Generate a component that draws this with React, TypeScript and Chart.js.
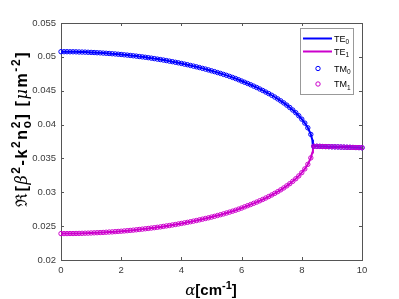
import React, { useEffect, useRef } from "react";
import { Chart, registerables } from "chart.js";

Chart.register(...registerables);

// alpha values (cm^-1) before the exceptional point
const alphaPre = [
  0, 0.1, 0.2, 0.3, 0.4, 0.5, 0.6, 0.7, 0.8, 0.9,
  1, 1.1, 1.2, 1.3, 1.4, 1.5, 1.6, 1.7, 1.8, 1.9,
  2, 2.1, 2.2, 2.3, 2.4, 2.5, 2.6, 2.7, 2.8, 2.9,
  3, 3.1, 3.2, 3.3, 3.4, 3.5, 3.6, 3.7, 3.8, 3.9,
  4, 4.1, 4.2, 4.3, 4.4, 4.5, 4.6, 4.7, 4.8, 4.9,
  5, 5.1, 5.2, 5.3, 5.4, 5.5, 5.6, 5.7, 5.8, 5.9,
  6, 6.1, 6.2, 6.3, 6.4, 6.5, 6.6, 6.7, 6.8, 6.9,
  7, 7.1, 7.2, 7.3, 7.4, 7.5, 7.6, 7.7, 7.8, 7.9,
  8, 8.1, 8.2, 8.3,
];
// mode 0 (upper branch)
const mode0Pre = [
  0.05076, 0.05076, 0.05076, 0.05075, 0.05075, 0.05074, 0.05072, 0.05071, 0.0507, 0.05068,
  0.05066, 0.05064, 0.05061, 0.05059, 0.05056, 0.05053, 0.0505, 0.05046, 0.05043, 0.05039,
  0.05035, 0.0503, 0.05026, 0.05021, 0.05016, 0.05011, 0.05005, 0.05, 0.04994, 0.04988,
  0.04981, 0.04974, 0.04967, 0.0496, 0.04953, 0.04945, 0.04937, 0.04929, 0.0492, 0.04912,
  0.04903, 0.04893, 0.04884, 0.04873, 0.04863, 0.04853, 0.04842, 0.0483, 0.04819, 0.04807,
  0.04794, 0.04782, 0.04768, 0.04755, 0.04741, 0.04727, 0.04712, 0.04696, 0.0468, 0.04662,
  0.04643, 0.04625, 0.04607, 0.04588, 0.04568, 0.04548, 0.04526, 0.04504, 0.04481, 0.04458,
  0.04433, 0.04407, 0.04379, 0.0435, 0.0432, 0.04287, 0.04252, 0.04215, 0.04175, 0.0413,
  0.0408, 0.04022, 0.03952, 0.03855,
];
// mode 1 (lower branch)
const mode1Pre = [
  0.0239, 0.0239, 0.0239, 0.02391, 0.02391, 0.02392, 0.02393, 0.02394, 0.02396, 0.02397,
  0.02399, 0.02401, 0.02403, 0.02405, 0.02407, 0.0241, 0.02413, 0.02415, 0.02419, 0.02422,
  0.02425, 0.02429, 0.02433, 0.02437, 0.02441, 0.02446, 0.02451, 0.02456, 0.02461, 0.02466,
  0.02472, 0.02477, 0.02483, 0.02489, 0.02496, 0.02503, 0.02509, 0.02517, 0.02524, 0.02532,
  0.0254, 0.02548, 0.02556, 0.02565, 0.02574, 0.02583, 0.02593, 0.02603, 0.02613, 0.02623,
  0.02634, 0.02645, 0.02657, 0.02669, 0.02681, 0.02694, 0.02707, 0.02721, 0.02735, 0.02751,
  0.02767, 0.02785, 0.02802, 0.02819, 0.02837, 0.02855, 0.02874, 0.02894, 0.02915, 0.02937,
  0.0296, 0.02984, 0.03009, 0.03036, 0.03064, 0.03095, 0.03127, 0.03162, 0.032, 0.03242,
  0.0329, 0.03345, 0.03413, 0.03508,
];
// extra line samples close to the exceptional point
const alphaNearEP = [8.35, 8.37];
const mode0NearEP = [0.03774, 0.0368];
const mode1NearEP = [0.03587, 0.0368];
// after the exceptional point (both modes share the real part)
const alphaPost = [8.4, 8.5, 8.6, 8.7, 8.8, 8.9, 9, 9.1, 9.2, 9.3, 9.4, 9.5, 9.6, 9.7, 9.8, 9.9, 10];
const mergedPost = [
  0.0368, 0.03679, 0.03678, 0.03676, 0.03675, 0.03674, 0.03672, 0.03671, 0.0367,
  0.03668, 0.03667, 0.03665, 0.03664, 0.03662, 0.03661, 0.0366, 0.03658,
];

const xTicks = [0, 2, 4, 6, 8, 10];
const yTicks = [0.02, 0.025, 0.03, 0.035, 0.04, 0.045, 0.05, 0.055];
const legendLabels = [
  { base: "TE", sub: "0" },
  { base: "TE", sub: "1" },
  { base: "TM", sub: "0" },
  { base: "TM", sub: "1" },
];

const BLUE = "#0000ff";
const MAG = "#cc00cc";
const AXIS = "#555555";
const TXT = "#3a3a3a";

const pts = (xs: number[], ys: number[]) => xs.map((x, i) => ({ x, y: ys[i] }));

type Seg = { t: string; mode?: "n" | "sup" | "sub" | "supsub"; t2?: string; font?: string };

function drawRich(ctx: CanvasRenderingContext2D, segs: Seg[], cx: number, by: number, size: number, boldFam: string) {
  const main = `bold ${size}px ${boldFam}`;
  const small = `bold ${Math.round(size * 0.72)}px ${boldFam}`;
  const widths = segs.map((s) => {
    if (!s.mode || s.mode === "n") {
      ctx.font = s.font || main;
      return ctx.measureText(s.t).width;
    }
    ctx.font = small;
    if (s.mode === "supsub") return Math.max(ctx.measureText(s.t).width, ctx.measureText(s.t2 || "").width);
    return ctx.measureText(s.t).width;
  });
  const total = widths.reduce((a, b) => a + b, 0);
  let x = cx - total / 2;
  ctx.textBaseline = "alphabetic";
  ctx.textAlign = "left";
  segs.forEach((s, i) => {
    if (!s.mode || s.mode === "n") {
      ctx.font = s.font || main;
      ctx.fillText(s.t, x, by);
    } else {
      ctx.font = small;
      if (s.mode === "sup") ctx.fillText(s.t, x, by - size * 0.42);
      else if (s.mode === "sub") ctx.fillText(s.t, x, by + size * 0.22);
      else {
        ctx.fillText(s.t, x, by - size * 0.42);
        ctx.fillText(s.t2 || "", x, by + size * 0.22);
      }
    }
    x += widths[i];
  });
}

const decorPlugin = {
  id: "decor",
  beforeDatasetsDraw(chart: any) {
    const ctx = chart.ctx as CanvasRenderingContext2D;
    const { left, right, top, bottom } = chart.chartArea;
    const xs = chart.scales.x;
    const ys = chart.scales.y;
    ctx.save();
    ctx.strokeStyle = AXIS;
    ctx.lineWidth = 1;
    ctx.strokeRect(Math.round(left) + 0.5, Math.round(top) + 0.5, Math.round(right - left), Math.round(bottom - top));
    ctx.beginPath();
    xTicks.forEach((v) => {
      const px = Math.round(xs.getPixelForValue(v)) + 0.5;
      ctx.moveTo(px, bottom);
      ctx.lineTo(px, bottom - 3);
      ctx.moveTo(px, top);
      ctx.lineTo(px, top + 3);
    });
    yTicks.forEach((v) => {
      const py = Math.round(ys.getPixelForValue(v)) + 0.5;
      ctx.moveTo(left, py);
      ctx.lineTo(left + 3, py);
      ctx.moveTo(right, py);
      ctx.lineTo(right - 3, py);
    });
    ctx.stroke();
    ctx.restore();
  },
  afterDraw(chart: any) {
    const ctx = chart.ctx as CanvasRenderingContext2D;
    ctx.save();
    ctx.fillStyle = "#000000";
    // x title
    drawRich(
      ctx,
      [
        { t: "α", font: "italic 15px 'DejaVu Serif'" },
        { t: "[cm" },
        { t: "-1", mode: "sup" },
        { t: "]" },
      ],
      211,
      295,
      15,
      "'Liberation Sans', Arial, sans-serif"
    );
    // y title
    ctx.save();
    ctx.translate(27, 129);
    ctx.rotate(-Math.PI / 2);
    (ctx as any).letterSpacing = "1.6px";
    drawRich(
      ctx,
      [
        { t: "ℜ", font: "16px 'DejaVu Serif'" },
        { t: "[" },
        { t: "β", font: "italic 16px 'DejaVu Serif'" },
        { t: "2", mode: "sup" },
        { t: "-k" },
        { t: "2", mode: "sup" },
        { t: "n" },
        { t: "2", t2: "o", mode: "supsub" },
        { t: "] [" },
        { t: "μ", font: "italic 16px 'DejaVu Serif'" },
        { t: "m" },
        { t: "-2", mode: "sup" },
        { t: "]" },
      ],
      0,
      0,
      16,
      "'Liberation Sans', Arial, sans-serif"
    );
    (ctx as any).letterSpacing = "0px";
    ctx.restore();

    // legend
    const bx = 300.5, by = 28.5, bw = 53, bh = 66;
    ctx.fillStyle = "#ffffff";
    ctx.fillRect(bx, by, bw, bh);
    ctx.strokeStyle = "#999999";
    ctx.lineWidth = 1;
    ctx.strokeRect(bx, by, bw, bh);
    const rows = [38.5, 51.5, 68.5, 84];
    const cols = [BLUE, MAG, BLUE, MAG];
    rows.forEach((ry, i) => {
      ctx.strokeStyle = cols[i];
      if (i < 2) {
        ctx.lineWidth = 2;
        ctx.beginPath();
        ctx.moveTo(303, ry);
        ctx.lineTo(332, ry);
        ctx.stroke();
      } else {
        ctx.lineWidth = 1;
        ctx.beginPath();
        ctx.arc(318, ry, 2.2, 0, Math.PI * 2);
        ctx.stroke();
      }
      ctx.fillStyle = "#000000";
      ctx.font = "9px 'Liberation Sans', Arial, sans-serif";
      ctx.textAlign = "left";
      ctx.textBaseline = "alphabetic";
      const lab = legendLabels[i];
      const w = ctx.measureText(lab.base).width;
      ctx.fillText(lab.base, 334, ry + 3);
      ctx.font = "6.5px 'Liberation Sans', Arial, sans-serif";
      ctx.fillText(lab.sub, 334 + w, ry + 5.5);
    });
    ctx.restore();
  },
};

export default function App() {
  const ref = useRef<HTMLCanvasElement>(null);
  useEffect(() => {
    document.body.style.margin = "0";
    const canvas = ref.current!;
    const te0 = [...pts(alphaPre, mode0Pre), ...pts(alphaNearEP, mode0NearEP), ...pts(alphaPost, mergedPost)];
    const te1 = [...pts(alphaPre, mode1Pre), ...pts(alphaNearEP, mode1NearEP), ...pts(alphaPost, mergedPost)];
    const tm0 = [...pts(alphaPre, mode0Pre), ...pts(alphaPost, mergedPost)];
    const tm1 = [...pts(alphaPre, mode1Pre), ...pts(alphaPost, mergedPost)];
    const chart = new Chart(canvas, {
      type: "line",
      data: {
        datasets: [
          { label: "TE0", data: te0, borderColor: BLUE, borderWidth: 2, pointRadius: 0, tension: 0, order: 4 },
          { label: "TE1", data: te1, borderColor: MAG, borderWidth: 2, pointRadius: 0, tension: 0, order: 3 },
          {
            label: "TM0", data: tm0, showLine: false, pointRadius: 2.2, pointBorderWidth: 1,
            pointBorderColor: BLUE, pointBackgroundColor: "rgba(0,0,0,0)", borderColor: BLUE, order: 2, clip: false,
          },
          {
            label: "TM1", data: tm1, showLine: false, pointRadius: 2.2, pointBorderWidth: 1,
            pointBorderColor: MAG, pointBackgroundColor: "rgba(0,0,0,0)", borderColor: MAG, order: 1, clip: false,
          },
        ] as any,
      },
      options: {
        responsive: false,
        animation: false,
        events: [],
        layout: { padding: { top: 23, right: 37, left: 0, bottom: 0 } },
        plugins: { legend: { display: false }, tooltip: { enabled: false } },
        scales: {
          x: {
            type: "linear",
            min: 0,
            max: 10,
            grid: { display: false, drawTicks: false },
            border: { display: false },
            ticks: {
              stepSize: 2,
              padding: 5,
              color: TXT,
              maxRotation: 0,
              font: { family: "'Liberation Sans', Arial, sans-serif", size: 9.5 },
            },
            afterFit: (s: any) => { s.height = 39; },
          },
          y: {
            type: "linear",
            min: 0.02,
            max: 0.055,
            grid: { display: false, drawTicks: false },
            border: { display: false },
            ticks: {
              stepSize: 0.005,
              padding: 5,
              color: TXT,
              font: { family: "'Liberation Sans', Arial, sans-serif", size: 9.5 },
              callback: (v: any) => String(parseFloat(Number(v).toFixed(3))),
            },
            afterFit: (s: any) => { s.width = 61; },
          },
        },
      } as any,
      plugins: [decorPlugin],
    });
    return () => chart.destroy();
  }, []);
  return (
    <canvas
      ref={ref}
      width={399}
      height={299}
      style={{ position: "fixed", left: 0, top: 0, width: 399, height: 299, background: "#fff" }}
    />
  );
}
